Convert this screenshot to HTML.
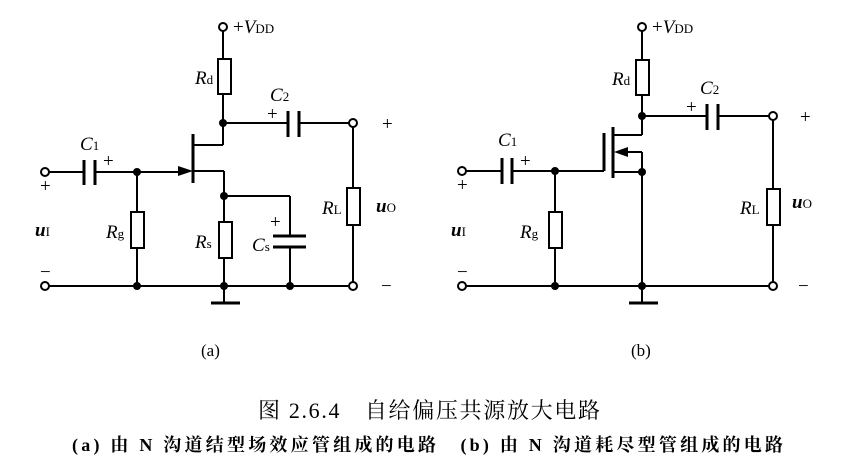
<!DOCTYPE html>
<html><head><meta charset="utf-8"><style>
html,body{margin:0;padding:0;background:#fff;}
svg{display:block}
.t{font-family:"Liberation Serif",serif;fill:#000}
.c{font-family:"Liberation Serif","Noto Serif CJK SC","Noto Sans CJK SC",serif;fill:#000}
</style></head><body>
<svg width="844" height="476" viewBox="0 0 844 476" xmlns="http://www.w3.org/2000/svg">
<g stroke="#000" stroke-width="2" fill="none">
<line x1="223" y1="31" x2="223" y2="59"/>
<rect x="218" y="59" width="13" height="35"/>
<line x1="223" y1="94" x2="223" y2="145"/>
<line x1="223" y1="123" x2="288" y2="123"/>
<line x1="299" y1="123" x2="349" y2="123"/>
<line x1="288" y1="111" x2="288" y2="137" stroke-width="3"/>
<line x1="299" y1="111" x2="299" y2="137" stroke-width="3"/>
<line x1="193" y1="145" x2="223" y2="145"/>
<line x1="193" y1="134" x2="193" y2="183" stroke-width="3"/>
<line x1="193" y1="171" x2="224" y2="171"/>
<line x1="224" y1="171" x2="224" y2="222"/>
<line x1="224" y1="196" x2="290" y2="196"/>
<line x1="290" y1="196" x2="290" y2="236"/>
<line x1="273" y1="236" x2="306" y2="236" stroke-width="3"/>
<line x1="273" y1="247" x2="306" y2="247" stroke-width="3"/>
<line x1="290" y1="247" x2="290" y2="286"/>
<rect x="219" y="222" width="13" height="36"/>
<line x1="224" y1="258" x2="224" y2="302"/>
<line x1="211" y1="303" x2="240" y2="303" stroke-width="3"/>
<line x1="353" y1="127" x2="353" y2="188"/>
<rect x="347" y="188" width="13" height="37"/>
<line x1="353" y1="225" x2="353" y2="282"/>
<line x1="49" y1="172" x2="84" y2="172"/>
<line x1="84" y1="160" x2="84" y2="185" stroke-width="3"/>
<line x1="95" y1="160" x2="95" y2="185" stroke-width="3"/>
<line x1="95" y1="172" x2="180" y2="172"/>
<line x1="137" y1="172" x2="137" y2="212"/>
<rect x="131" y="212" width="13" height="36"/>
<line x1="137" y1="248" x2="137" y2="286"/>
<line x1="49" y1="286" x2="349" y2="286"/>
<circle cx="223" cy="27" r="4"/>
<circle cx="353" cy="123" r="4"/>
<circle cx="353" cy="286" r="4"/>
<circle cx="45" cy="172" r="4"/>
<circle cx="45" cy="286" r="4"/>
<line x1="642" y1="31" x2="642" y2="60"/>
<rect x="636" y="60" width="13" height="35"/>
<line x1="642" y1="95" x2="642" y2="135"/>
<line x1="642" y1="116" x2="707" y2="116"/>
<line x1="718" y1="116" x2="769" y2="116"/>
<line x1="707" y1="104" x2="707" y2="130" stroke-width="3"/>
<line x1="718" y1="104" x2="718" y2="130" stroke-width="3"/>
<line x1="613" y1="135" x2="642" y2="135"/>
<line x1="604" y1="133" x2="604" y2="171" stroke-width="3"/>
<line x1="613" y1="127" x2="613" y2="178" stroke-width="3"/>
<line x1="622" y1="152" x2="642" y2="152"/>
<line x1="642" y1="152" x2="642" y2="302"/>
<line x1="613" y1="172" x2="642" y2="172"/>
<line x1="466" y1="171" x2="502" y2="171"/>
<line x1="502" y1="158" x2="502" y2="184" stroke-width="3"/>
<line x1="512" y1="158" x2="512" y2="184" stroke-width="3"/>
<line x1="512" y1="171" x2="604" y2="171"/>
<line x1="555" y1="171" x2="555" y2="212"/>
<rect x="549" y="212" width="13" height="36"/>
<line x1="555" y1="248" x2="555" y2="286"/>
<line x1="466" y1="286" x2="769" y2="286"/>
<line x1="629" y1="303" x2="658" y2="303" stroke-width="3"/>
<line x1="773" y1="120" x2="773" y2="189"/>
<rect x="767" y="189" width="13" height="36"/>
<line x1="773" y1="225" x2="773" y2="282"/>
<circle cx="642" cy="27" r="4"/>
<circle cx="773" cy="116" r="4"/>
<circle cx="773" cy="286" r="4"/>
<circle cx="462" cy="171" r="4"/>
<circle cx="462" cy="286" r="4"/>
</g>
<g fill="#000">
<polygon points="193,171 178,166 178,176"/>
<polygon points="614,152 628,147 628,157"/>
<circle cx="223" cy="123" r="4"/>
<circle cx="224" cy="196" r="4"/>
<circle cx="137" cy="172" r="4"/>
<circle cx="137" cy="286" r="4"/>
<circle cx="224" cy="286" r="4"/>
<circle cx="290" cy="286" r="4"/>
<circle cx="642" cy="116" r="4"/>
<circle cx="642" cy="172" r="4"/>
<circle cx="555" cy="171" r="4"/>
<circle cx="555" cy="286" r="4"/>
<circle cx="642" cy="286" r="4"/>
</g>
<g class="t" font-size="19">
<text x="233" y="33">+<tspan font-style="italic">V</tspan><tspan font-size="13">DD</tspan></text>
<text x="195" y="84" font-style="italic">R<tspan font-size="13" font-style="normal">d</tspan></text>
<text x="270" y="101" font-style="italic">C<tspan font-size="13" font-style="normal">2</tspan></text>
<text x="267" y="120">+</text>
<text x="382" y="130">+</text>
<text x="80" y="150" font-style="italic">C<tspan font-size="13" font-style="normal">1</tspan></text>
<text x="103" y="167">+</text>
<text x="40" y="192">+</text>
<text x="35" y="236" font-style="italic" font-weight="bold">u<tspan font-size="13" font-style="normal" font-weight="normal">I</tspan></text>
<text x="106" y="238" font-style="italic">R<tspan font-size="13" font-style="normal">g</tspan></text>
<text x="195" y="248" font-style="italic">R<tspan font-size="13" font-style="normal">s</tspan></text>
<text x="270" y="228">+</text>
<text x="252" y="251" font-style="italic">C<tspan font-size="13" font-style="normal">s</tspan></text>
<text x="322" y="214" font-style="italic">R<tspan font-size="13" font-style="normal">L</tspan></text>
<text x="376" y="212" font-style="italic" font-weight="bold">u<tspan font-size="13" font-style="normal" font-weight="normal">O</tspan></text>
<text x="40" y="278">−</text>
<text x="381" y="292">−</text>
<text x="652" y="33">+<tspan font-style="italic">V</tspan><tspan font-size="13">DD</tspan></text>
<text x="612" y="85" font-style="italic">R<tspan font-size="13" font-style="normal">d</tspan></text>
<text x="700" y="94" font-style="italic">C<tspan font-size="13" font-style="normal">2</tspan></text>
<text x="686" y="113">+</text>
<text x="800" y="123">+</text>
<text x="498" y="146" font-style="italic">C<tspan font-size="13" font-style="normal">1</tspan></text>
<text x="520" y="167">+</text>
<text x="457" y="191">+</text>
<text x="451" y="236" font-style="italic" font-weight="bold">u<tspan font-size="13" font-style="normal" font-weight="normal">I</tspan></text>
<text x="520" y="238" font-style="italic">R<tspan font-size="13" font-style="normal">g</tspan></text>
<text x="740" y="214" font-style="italic">R<tspan font-size="13" font-style="normal">L</tspan></text>
<text x="792" y="208" font-style="italic" font-weight="bold">u<tspan font-size="13" font-style="normal" font-weight="normal">O</tspan></text>
<text x="457" y="278">−</text>
<text x="798" y="292">−</text>
<text x="201" y="356" font-size="17">(a)</text>
<text x="631" y="356" font-size="17">(b)</text>
</g>
<text class="c" x="258" y="418" font-size="22" textLength="342" lengthAdjust="spacing">图 2.6.4　自给偏压共源放大电路</text>
<text class="c" x="72" y="451" font-size="18" font-weight="bold" textLength="711" lengthAdjust="spacing">(a) 由 N 沟道结型场效应管组成的电路　(b) 由 N 沟道耗尽型管组成的电路</text>
</svg>
</body></html>
